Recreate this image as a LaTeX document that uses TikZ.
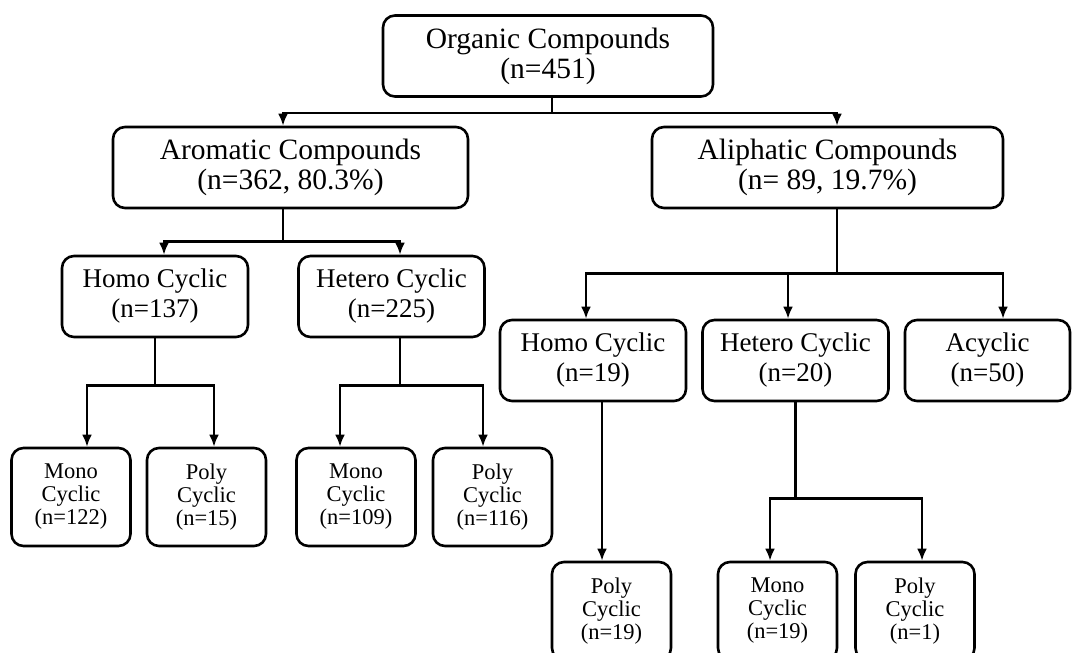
\documentclass[tikz,border=0pt]{standalone}
\usepackage{fontspec}
\setmainfont{Liberation Serif}
\usetikzlibrary{arrows.meta}

\begin{document}
\begin{tikzpicture}[x=1pt, y=-1pt,
    box/.style={draw, line width=2.6pt, rounded corners=12pt, align=center, inner sep=0pt},
    bigbox/.style={box, font=\fontsize{29.5}{30}\selectfont, minimum height=81pt},
    midbox/.style={box, font=\fontsize{27}{30}\selectfont, minimum width=186pt, minimum height=81pt},
    smallbox/.style={box, font=\fontsize{22.5}{23}\selectfont, minimum width=119pt, minimum height=98pt},
    arr/.style={line width=2.4pt, -{Latex[length=12pt,width=10pt]}}]
    \useasboundingbox (0,0) rectangle (1080,653);

    \node[bigbox, minimum width=330pt] (org) at (548, 56) {Organic Compounds\\(n=451)};
    \node[bigbox, minimum width=355pt] (arom) at (290.5, 167.5) {Aromatic Compounds\\(n=362, 80.3\%)};
    \node[bigbox, minimum width=351pt] (aliph) at (827.5, 167.5) {Aliphatic Compounds\\(n= 89, 19.7\%)};

    \node[midbox] (homoA) at (155, 296.5) {Homo Cyclic\\(n=137)};
    \node[midbox] (hetA) at (391.5, 296.5) {Hetero Cyclic\\(n=225)};
    \node[midbox] (homoB) at (593, 360.5) {Homo Cyclic\\(n=19)};
    \node[midbox] (hetB) at (795.5, 360.5) {Hetero Cyclic\\(n=20)};
    \node[midbox, minimum width=165pt] (acyc) at (987.5, 360.5) {Acyclic\\(n=50)};

    \node[smallbox] (monoA) at (71, 497) {Mono\\Cyclic\\(n=122)};
    \node[smallbox] (polyA) at (206.5, 497) {Poly\\Cyclic\\(n=15)};
    \node[smallbox] (monoB) at (356, 497) {Mono\\Cyclic\\(n=109)};
    \node[smallbox] (polyB) at (492.5, 497) {Poly\\Cyclic\\(n=116)};
    \node[smallbox] (polyC) at (611.5, 611) {Poly\\Cyclic\\(n=19)};
    \node[smallbox] (monoC) at (777.5, 611) {Mono\\Cyclic\\(n=19)};
    \node[smallbox] (polyD) at (915, 611) {Poly\\Cyclic\\(n=1)};

    % 枝を描く
    \draw[arr] ([xshift=4pt]org.south) -- ++(0,15) -| ([xshift=-7.5pt]arom.north);
    \draw[arr] ([xshift=4pt]org.south) -- ++(0,15) -| ([xshift=9.5pt]aliph.north);
    \draw[arr] ([xshift=-7.5pt]arom.south) -- ++(0,32) -| ([xshift=9pt]homoA.north);
    \draw[arr] ([xshift=-7.5pt]arom.south) -- ++(0,32) -| ([xshift=8.5pt]hetA.north);
    \draw[arr] (homoA.south) -- ++(0,47) -| ([xshift=16pt]monoA.north);
    \draw[arr] (homoA.south) -- ++(0,47) -| ([xshift=7.5pt]polyA.north);
    \draw[arr] ([xshift=8.5pt]hetA.south) -- ++(0,47) -| ([xshift=-16pt]monoB.north);
    \draw[arr] ([xshift=8.5pt]hetA.south) -- ++(0,47) -| ([xshift=-9.5pt]polyB.north);
    \draw[arr] ([xshift=9.5pt]aliph.south) -- ++(0,64) -| ([xshift=-7pt]homoB.north);
    \draw[arr] ([xshift=9.5pt]aliph.south) -- ++(0,64) -| ([xshift=-7.5pt]hetB.north);
    \draw[arr] ([xshift=9.5pt]aliph.south) -- ++(0,64) -| ([xshift=15.5pt]acyc.north);
    \draw[arr] ([xshift=9pt]homoB.south) -- ([xshift=9pt]homoB.south |- polyC.north);
    \draw[arr] (hetB.south) -- ++(0,96) -| ([xshift=-7.5pt]monoC.north);
    \draw[arr] (hetB.south) -- ++(0,96) -| ([xshift=7pt]polyD.north);
\end{tikzpicture}
\end{document}
